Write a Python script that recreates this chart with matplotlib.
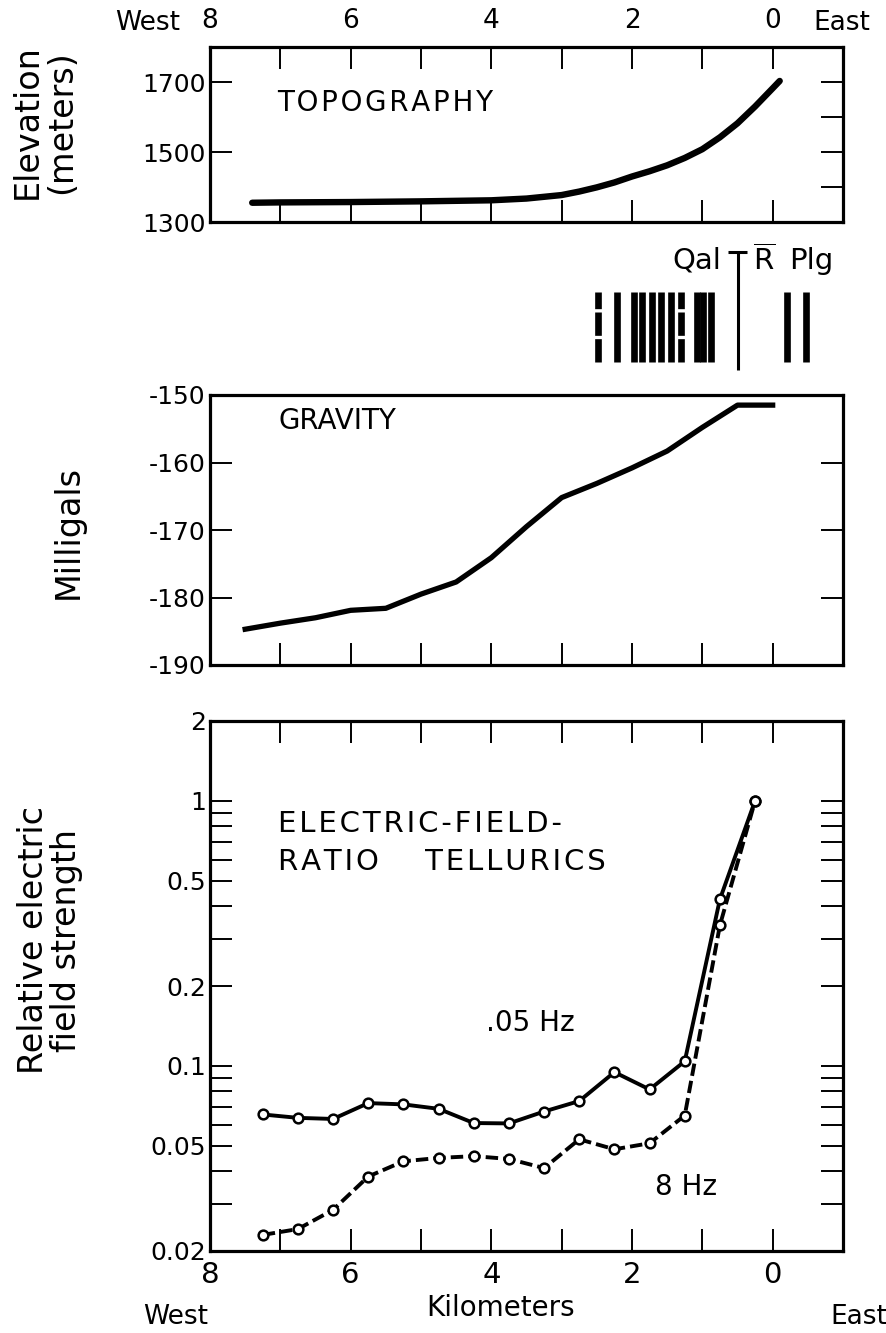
import numpy as np
import matplotlib.pyplot as plt
from matplotlib.ticker import FixedFormatter, NullFormatter

# Figure size in pixels and dpi.
W, H = 886, 1333
DPI = 100

plt.rcParams['font.family'] = ['DejaVu Sans']
plt.rcParams['axes.unicode_minus'] = False
plt.rcParams['mathtext.fontset'] = 'dejavusans'

# Distance along the profile, km (0 = east end).
topo_km = [7.4, 7.0, 6.0, 5.0, 4.0, 3.5, 3.0, 2.75, 2.5, 2.25, 2.0, 1.75, 1.5, 1.25,
           1.0, 0.75, 0.5, 0.25, 0.0, -0.1]
topo_elev = [1355, 1356, 1357, 1359, 1362, 1367, 1377, 1387, 1399, 1413, 1430, 1445,
             1462, 1483, 1508, 1542, 1582, 1630, 1682, 1703]

grav_km = [7.5, 7.0, 6.5, 6.0, 5.5, 5.0, 4.5, 4.0, 3.5, 3.0, 2.5, 2.0, 1.5, 1.0, 0.5, 0.0]
grav_mgal = [-184.7, -183.8, -183.0, -181.9, -181.6, -179.5, -177.7, -174.1,
             -169.5, -165.2, -163.1, -160.8, -158.3, -154.8, -151.5, -151.5]

# Telluric stations and relative electric field at two frequencies.
tell_km = [7.25, 6.75, 6.25, 5.75, 5.25, 4.75, 4.25, 3.75, 3.25, 2.75, 2.25, 1.75, 1.25, 0.75, 0.25]
tell_05hz = [0.0655, 0.0636, 0.063, 0.0723, 0.0715, 0.0688, 0.0608, 0.0606,
             0.0672, 0.0736, 0.0946, 0.0814, 0.104, 0.425, 1.0]
tell_8hz = [0.023, 0.0242, 0.0286, 0.0382, 0.0436, 0.0449, 0.0456, 0.0445,
            0.0411, 0.0528, 0.0484, 0.051, 0.0649, 0.339, 1.0]

# Geologic strip: sampled sites over alluvium (Qal) and Triassic granite (Plg).
qal_sites = [2.22, 1.97, 1.86, 1.72, 1.59, 1.44, 1.07, 0.99, 0.88]
qal_broken = [2.48, 1.30]
plg_sites = [-0.21, -0.47]
contact_km = 0.5

fig = plt.figure(figsize=(W / DPI, H / DPI), dpi=DPI)


def px_axes(left, top, right, bottom):
    return fig.add_axes([left / W, 1 - bottom / H, (right - left) / W, (bottom - top) / H])


def px_text(x, y, s, **kw):
    fig.text(x / W, 1 - y / H, s, **kw)


def spaced(s):
    # open up the lettering a little with hair spaces
    return '\u200a'.join(s)


def frame(ax):
    for s in ax.spines.values():
        s.set_linewidth(2.3)
    ax.set_xlim(8, -1)
    ax.tick_params(which='both', direction='in', length=16, width=1.4, labelsize=18)


L, R = 210, 843

# --- topography
ax1 = px_axes(L, 47, R, 222)
frame(ax1)
ax1.plot(topo_km, topo_elev, color='k', lw=4.6, solid_capstyle='round', solid_joinstyle='round')
ax1.set_ylim(1300, 1800)
ax1.set_yticks([1300, 1500, 1700])
ax1.set_yticks([1400, 1600], minor=True)
ax1.tick_params(axis='y', which='major', left=True, right=True, pad=3)
ax1.tick_params(axis='y', which='minor', left=False, right=True)
ax1.set_xticks([8, 6, 4, 2, 0])
ax1.set_xticks([7, 5, 3, 1], minor=True)
ax1.tick_params(axis='x', which='both', top=True, bottom=True,
                labeltop=True, labelbottom=False, pad=9, labelsize=19)
ax1.text(7.05, 1640, spaced('TOPOGRAPHY'), fontsize=20, ha='left', va='center')

# --- geology strip
ax4 = px_axes(L, 240, R, 380)
ax4.set_xlim(8, -1)
ax4.set_ylim(0, 1)
ax4.axis('off')
ax4.vlines(qal_sites + plg_sites, 0.129, 0.629, color='k', lw=4.8)
ax4.vlines(qal_broken, 0.129, 0.629, color='k', lw=4.8, linestyles=[(0, (3.5, 0.5))])
ax4.vlines(contact_km, 0.071, 0.914, color='k', lw=2.2)
ax4.hlines(0.914, contact_km + 0.14, contact_km - 0.14, color='k', lw=2.2)
ax4.text(1.42, 0.85, 'Qal', fontsize=21, ha='left', va='center')
ax4.text(0.28, 0.85, r'$\overline{\mathsf{R}}$', fontsize=21, ha='left', va='center')
ax4.text(-0.23, 0.85, 'Plg', fontsize=21, ha='left', va='center')

# --- gravity
ax2 = px_axes(L, 395, R, 665)
frame(ax2)
ax2.plot(grav_km, grav_mgal, color='k', lw=3.8, solid_joinstyle='round')
ax2.set_ylim(-190, -150)
ax2.set_yticks(np.arange(-190, -149, 10))
ax2.tick_params(axis='y', left=True, right=True, pad=3)
ax2.set_xticks(range(0, 8))
ax2.tick_params(axis='x', top=False, bottom=True, labelbottom=False)
ax2.text(7.03, -153.9, 'GRAVITY', fontsize=20, ha='left', va='center')

# --- electric-field-ratio tellurics
ax3 = px_axes(L, 721, R, 1251)
frame(ax3)
ax3.set_yscale('log')
ax3.plot(tell_km, tell_05hz, color='k', lw=2.8, marker='o', ms=7,
         mfc='white', mec='k', mew=1.8)
ax3.plot(tell_km, tell_8hz, color='k', lw=2.8, dashes=(3.2, 1.3), marker='o', ms=7,
         mfc='white', mec='k', mew=1.8)
ax3.set_ylim(0.02, 2)
yt = [0.02, 0.05, 0.1, 0.2, 0.5, 1, 2]
ax3.set_yticks(yt)
ax3.yaxis.set_major_formatter(FixedFormatter(['0.02', '0.05', '0.1', '0.2', '0.5', '1', '2']))
ax3.set_yticks([0.03, 0.04, 0.06, 0.07, 0.08, 0.09, 0.3, 0.4, 0.6, 0.7, 0.8, 0.9], minor=True)
ax3.yaxis.set_minor_formatter(NullFormatter())
ax3.tick_params(axis='y', which='both', left=True, right=True, pad=3)
ax3.set_xticks([8, 6, 4, 2, 0])
ax3.set_xticks([7, 5, 3, 1], minor=True)
ax3.tick_params(axis='x', which='both', top=True, bottom=True, pad=7, labelsize=21)
ax3.text(7.03, 0.819, spaced('ELECTRIC-FIELD-'), fontsize=21, ha='left', va='center')
ax3.text(7.03, 0.589, spaced('RATIO') + '     ' + spaced('TELLURICS'), fontsize=21,
         ha='left', va='center')
ax3.text(4.07, 0.145, '.05 Hz', fontsize=20, ha='left', va='center')
ax3.text(1.67, 0.0349, '8 Hz', fontsize=20, ha='left', va='center')

# --- axis titles and direction labels
px_text(148, 23, 'West', fontsize=19, ha='center', va='center')
px_text(842, 23, 'East', fontsize=19, ha='center', va='center')
px_text(176, 1317, 'West', fontsize=19, ha='center', va='center')
px_text(859, 1317, 'East', fontsize=19, ha='center', va='center')
px_text(501, 1308, 'Kilometers', fontsize=20, ha='center', va='center')
px_text(44, 122, 'Elevation\n(meters)', fontsize=24, rotation=90,
        ha='center', va='center', linespacing=1.05)
px_text(68, 532, 'Milligals', fontsize=24, rotation=90, ha='center', va='center')
px_text(50, 940, 'Relative electric\nfield strength', fontsize=24, rotation=90,
        ha='center', va='center', linespacing=1.0)

fig.savefig('out.png', dpi=DPI)
